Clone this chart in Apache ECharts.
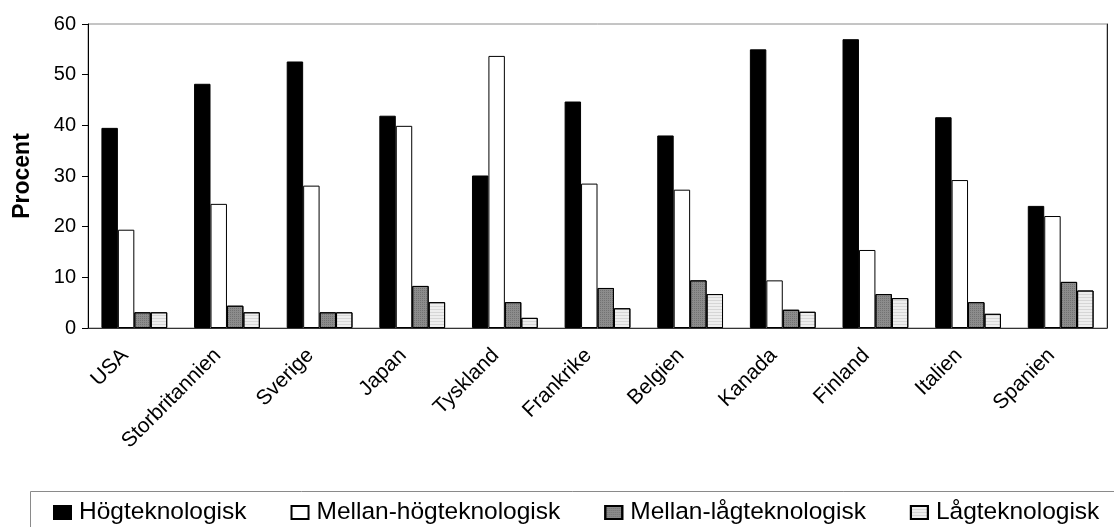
<!DOCTYPE html>
<html>
<head>
<meta charset="utf-8">
<title>Andel av tillverkningsindustrins export efter teknologinivå</title>
<script src="https://cdn.jsdelivr.net/npm/echarts@6/dist/echarts.min.js"></script>
<style>
  html, body { margin: 0; padding: 0; background: #fff; }
  #chart { width: 1114px; height: 527px; }
</style>
</head>
<body>
<div id="chart"></div>
<script>
// Länder (kategorier)
const categories = ['USA', 'Storbritannien', 'Sverige', 'Japan', 'Tyskland', 'Frankrike',
  'Belgien', 'Kanada', 'Finland', 'Italien', 'Spanien'];

// Andel i procent per teknologinivå
const hogteknologisk = [39.5, 48.2, 52.6, 41.9, 30.1, 44.7, 38.0, 55.0, 57.0, 41.6, 24.1];
const mellanHogteknologisk = [19.4, 24.5, 28.1, 39.9, 53.7, 28.5, 27.3, 9.4, 15.4, 29.2, 22.1];
const mellanLagteknologisk = [3.1, 4.4, 3.1, 8.3, 5.1, 7.9, 9.4, 3.6, 6.7, 5.1, 9.1];
const lagteknologisk = [3.1, 3.1, 3.1, 5.1, 2.0, 3.9, 6.7, 3.2, 5.9, 2.8, 7.4];

// Värdeaxelns skala
const yMin = 0;
const yMax = 60;
const yStep = 10;

const seriesNames = ['Högteknologisk', 'Mellan-högteknologisk', 'Mellan-lågteknologisk', 'Lågteknologisk'];

const font = '"Liberation Sans", Arial, sans-serif';
const chart = echarts.init(document.getElementById('chart'), null, { renderer: 'canvas' });

function bar(name, data, color, decal) {
  const itemStyle = { color: color, borderColor: '#000', borderWidth: 1 };
  if (decal) itemStyle.decal = decal;
  return {
    name: name,
    type: 'bar',
    data: data,
    barGap: '0%',
    barCategoryGap: '29%',
    itemStyle: itemStyle,
    emphasis: { disabled: true }
  };
}

// fina mönster: prickar för mellan-låg, horisontella linjer för låg
const dotted = { symbol: 'rect', symbolSize: 1, dashArrayX: [1, 1], dashArrayY: [1, 1], color: 'rgba(0,0,0,0.18)' };
const striped = { symbol: 'rect', symbolSize: 1, dashArrayX: [1, 0], dashArrayY: [1, 2], color: 'rgba(0,0,0,0.10)' };

chart.setOption({
  animation: false,
  backgroundColor: '#fff',
  textStyle: { fontFamily: font },
  grid: {
    left: 88, right: 7, top: 24, bottom: 199,
    show: true, borderColor: '#8a8a8a', borderWidth: 1, backgroundColor: 'transparent'
  },
  legend: {
    data: seriesNames,
    left: 53, top: 500,
    itemWidth: 17, itemHeight: 13, itemGap: 44,
    padding: 0,
    icon: 'rect',
    textStyle: { fontFamily: font, fontSize: 24.5, color: '#000', padding: [0, 0, 0, 3] }
  },
  graphic: [{
    type: 'rect',
    left: 28, top: 489,
    shape: { width: 1200, height: 100 },
    style: { fill: 'none', stroke: '#8a8a8a', lineWidth: 1 },
    silent: true
  }],
  xAxis: {
    type: 'category',
    data: categories,
    axisLine: { lineStyle: { color: '#333', width: 1 } },
    axisTick: { show: false },
    axisLabel: {
      rotate: 45, interval: 0, margin: 15,
      padding: [0, 13, 0, 0],
      fontFamily: font, fontSize: 21, color: '#000'
    },
    splitLine: { show: false }
  },
  yAxis: [{
    type: 'value',
    min: yMin, max: yMax, interval: yStep,
    name: 'Procent',
    nameLocation: 'middle',
    nameGap: 54,
    nameRotate: 90,
    nameTextStyle: { fontFamily: font, fontSize: 23, fontWeight: 'bold', color: '#000' },
    axisLine: { show: true, lineStyle: { color: '#000', width: 1 } },
    axisTick: { show: true, inside: false, length: 6, lineStyle: { color: '#000' } },
    axisLabel: { margin: 12, fontFamily: font, fontSize: 20, color: '#000' },
    splitLine: { show: false }
  }, {
    type: 'value',
    position: 'right',
    min: yMin, max: yMax, interval: yStep,
    axisLine: { show: true, lineStyle: { color: '#222', width: 1 } },
    axisTick: { show: false },
    axisLabel: { show: false },
    splitLine: { show: false }
  }],
  series: [
    bar(seriesNames[0], hogteknologisk, '#000000'),
    bar(seriesNames[1], mellanHogteknologisk, '#ffffff'),
    bar(seriesNames[2], mellanLagteknologisk, '#8c8c8c', dotted),
    bar(seriesNames[3], lagteknologisk, '#eeeeee', striped)
  ]
});
</script>
</body>
</html>
